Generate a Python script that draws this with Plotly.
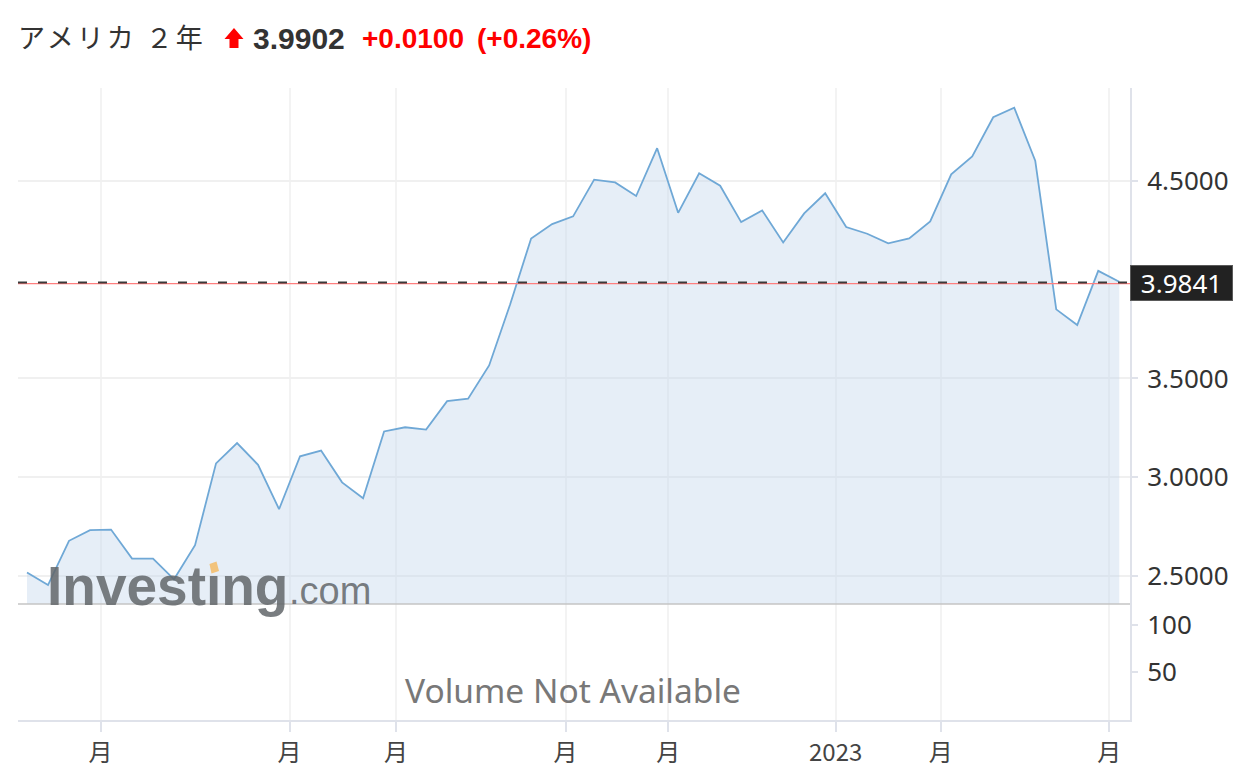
import plotly.graph_objects as go
import pandas as pd

# ---------------- data ----------------
dates = pd.date_range("2022-04-08", periods=53, freq="7D").strftime("%Y-%m-%d").tolist()
yields = [2.517, 2.454, 2.678, 2.732, 2.735, 2.588, 2.588, 2.483, 2.656, 3.070,
          3.173, 3.063, 2.838, 3.106, 3.135, 2.974, 2.894, 3.232, 3.253, 3.241,
          3.385, 3.398, 3.566, 3.875, 4.209, 4.282, 4.321, 4.507, 4.493, 4.424,
          4.666, 4.339, 4.539, 4.476, 4.292, 4.351, 4.189, 4.336, 4.438, 4.267,
          4.233, 4.184, 4.209, 4.295, 4.534, 4.625, 4.823, 4.871, 4.603, 3.850,
          3.771, 4.045, 3.990]
tick_dates = ["2022-05-02 12:00", "2022-07-04 12:00", "2022-08-09", "2022-10-04 12:00",
              "2022-11-07 17:00", "2023-01-02 12:00", "2023-02-06 12:00", "2023-04-03 17:00"]
tick_labels = ["月", "月", "月", "月", "月", "2023", "月", "月"]
price_ticks = [2.5, 3.0, 3.5, 4.5]
volume_ticks = [50, 100]
current_price = 3.9841
title_name = "アメリカ ２年"
title_last = "3.9902"
title_change = "+0.0100"
title_pct = "(+0.26%)"

# ---------------- layout helpers ----------------
# The page body has an 8px margin, so the figure is placed 8px in from the window edge.
OFF = 8
W, H = 1252 - 2 * OFF, 784 - 2 * OFF - 2
PLOT_L, PLOT_R, PLOT_T, PLOT_B = 18, 1130, 88, 720   # window pixel positions of plot area
L = PLOT_L - OFF
T = PLOT_T - OFF
R = (W + OFF) - PLOT_R
B = (H + OFF) - PLOT_B
PW, PH = PLOT_R - PLOT_L, PLOT_B - PLOT_T


def px(x):
    return (x - PLOT_L) / PW


def py(y):
    return (PLOT_B - y) / PH


split = py(604)

fig = go.Figure()
fig.add_trace(go.Scatter(
    x=dates, y=yields, mode="lines",
    line=dict(color="#6fa8d6", width=1.8),
    fill="tozeroy", fillcolor="rgba(196,214,236,0.42)",
    xaxis="x", yaxis="y", hoverinfo="skip", showlegend=False))
fig.add_trace(go.Scatter(x=[], y=[], xaxis="x", yaxis="y2", showlegend=False))

axis_font = dict(family="Noto Sans, Noto Sans CJK JP", size=26, color="#333333")
line_col = "#dfe2ea"

fig.update_layout(
    width=W, height=H,
    margin=dict(l=L, r=R, t=T, b=B, autoexpand=False),
    paper_bgcolor="white", plot_bgcolor="white",
    showlegend=False,
    xaxis=dict(
        type="date", anchor="y2", automargin=False,
        range=["2022-04-05", "2023-04-10 14:00"],
        tickmode="array", tickvals=tick_dates, ticktext=tick_labels,
        tickfont=dict(family="Noto Sans CJK JP, Noto Sans", size=24, color="#444444"),
        ticks="outside", ticklen=10, tickcolor=line_col, tickwidth=1.5,
        ticklabelstandoff=0,
        showgrid=True, gridcolor="#f3f3f3", gridwidth=1.5,
        showline=True, linecolor=line_col, linewidth=2,
        zeroline=False, fixedrange=True),
    yaxis=dict(
        domain=[split, 1], anchor="x", side="right", automargin=False,
        range=[2.358, 4.971],
        tickmode="array", tickvals=price_ticks, tickformat=".4f",
        tickfont=axis_font,
        ticks="outside", ticklen=6, tickcolor=line_col, tickwidth=1.5,
        ticklabelstandoff=4,
        showgrid=True, gridcolor="#f0f0f0", gridwidth=1.5,
        showline=True, linecolor=line_col, linewidth=2,
        zeroline=False, fixedrange=True),
    yaxis2=dict(
        domain=[0, split], anchor="x", side="right", automargin=False,
        range=[0, 121.7],
        tickmode="array", tickvals=volume_ticks,
        tickfont=axis_font,
        ticks="outside", ticklen=6, tickcolor=line_col, tickwidth=1.5,
        ticklabelstandoff=4,
        showgrid=False,
        showline=True, linecolor=line_col, linewidth=2,
        zeroline=False, fixedrange=True),
)

shapes = []
# pane separator
shapes.append(dict(type="line", xref="paper", yref="paper", x0=0, x1=1, y0=split, y1=split,
                   line=dict(color="#c4c4c4", width=1.5), layer="above"))
# current price lines
shapes.append(dict(type="line", xref="paper", yref="y", x0=0, x1=1,
                   y0=current_price - 0.004, y1=current_price - 0.004,
                   line=dict(color="#ff7f7f", width=1.3), layer="above"))
shapes.append(dict(type="line", xref="paper", yref="y", x0=0, x1=1,
                   y0=current_price + 0.002, y1=current_price + 0.002,
                   line=dict(color="#3a3a3a", width=2, dash="9px,11px"), layer="above"))
# red up arrow in title
arrow_pts = [(234, 28), (243.5, 39), (238.5, 39), (238.5, 48), (229.5, 48), (229.5, 39), (224.5, 39)]
path = "M " + " L ".join(f"{px(a):.5f},{py(b):.5f}" for a, b in arrow_pts) + " Z"
shapes.append(dict(type="path", xref="paper", yref="paper", path=path,
                   fillcolor="#ff0000", line=dict(width=0), layer="above"))
fig.update_layout(shapes=shapes)

ann = []
ann.append(dict(text=f'<span style="letter-spacing:3px">{title_name}</span>',
                xref="paper", yref="paper", x=px(16), y=py(36),
                xanchor="left", yanchor="middle", showarrow=False,
                font=dict(family="Noto Sans CJK JP", size=27, color="#333333")))
ann.append(dict(text=f"<b>{title_last}</b>", xref="paper", yref="paper", x=px(251), y=py(38),
                xanchor="left", yanchor="middle", showarrow=False,
                font=dict(family="Liberation Sans, Arial", size=30, color="#333333")))
ann.append(dict(text=f"<b>{title_change}</b>", xref="paper", yref="paper", x=px(360), y=py(38),
                xanchor="left", yanchor="middle", showarrow=False,
                font=dict(family="Liberation Sans, Arial", size=28, color="#ff0000")))
ann.append(dict(text=f"<b>{title_pct}</b>", xref="paper", yref="paper", x=px(475), y=py(38),
                xanchor="left", yanchor="middle", showarrow=False,
                font=dict(family="Liberation Sans, Arial", size=28, color="#ff0000")))
# watermark
ann.append(dict(text="<b>Investıng</b>", xref="paper", yref="paper", x=px(45), y=py(586),
                xanchor="left", yanchor="middle", showarrow=False,
                font=dict(family="Liberation Sans, Arial", size=55, color="rgba(98,102,106,0.85)")))
ann.append(dict(text=".com", xref="paper", yref="paper", x=px(287), y=py(591),
                xanchor="left", yanchor="middle", showarrow=False,
                font=dict(family="Liberation Sans, Arial", size=38, color="rgba(98,102,106,0.85)")))
# volume note
ann.append(dict(text="Volume Not Available", xref="paper", yref="paper", x=px(573), y=py(690),
                xanchor="center", yanchor="middle", showarrow=False,
                font=dict(family="Noto Sans", size=33.5, color="#787878")))
# current price label
ann.append(dict(text=f"{current_price:.4f}", xref="paper", yref="y", x=1, y=current_price,
                xanchor="left", yanchor="middle", showarrow=False,
                width=99, height=32, align="center", valign="middle",
                bgcolor="#222222", bordercolor="#5a5a5a", borderwidth=1, borderpad=1,
                font=dict(family="Noto Sans", size=26, color="white")))
fig.update_layout(annotations=ann)

# orange accent on the "i" of the watermark
dot = [(209.5, 564), (216.5, 561.5), (219, 571), (211.5, 573.5)]
fig.add_shape(type="path", xref="paper", yref="paper",
              path="M " + " L ".join(f"{px(a):.5f},{py(b):.5f}" for a, b in dot) + " Z",
              fillcolor="rgba(243,190,110,0.9)", line=dict(width=0), layer="above")

fig.write_html("out.html")
